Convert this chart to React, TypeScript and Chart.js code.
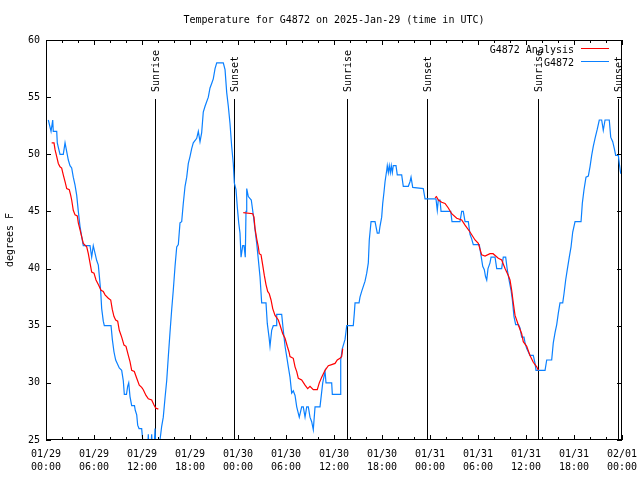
import React, { useEffect, useRef } from "react";
import { Chart, registerables } from "chart.js";

Chart.register(...registerables);

// ---------- data ----------
const chartTitle = "Temperature for G4872 on 2025-Jan-29 (time in UTC)";
const yAxisTitle = "degrees F";
const analysisLabel = "G4872 Analysis";
const obsLabel = "G4872";

// x tick positions (hours since 01/29 00:00 UTC) and labels
const xTickHours = [0, 2, 4, 6, 8, 10, 12, 14, 16, 18, 20, 22, 24, 26, 28, 30, 32, 34, 36, 38, 40, 42, 44, 46, 48, 50, 52, 54, 56, 58, 60, 62, 64, 66, 68, 70, 72];
const xLabelHours = [0, 6, 12, 18, 24, 30, 36, 42, 48, 54, 60, 66, 72];
const xLabelDates = ["01/29", "01/29", "01/29", "01/29", "01/30", "01/30", "01/30", "01/30", "01/31", "01/31", "01/31", "01/31", "02/01"];
const xLabelTimes = ["00:00", "06:00", "12:00", "18:00", "00:00", "06:00", "12:00", "18:00", "00:00", "06:00", "12:00", "18:00", "00:00"];
const yTicks = [25, 30, 35, 40, 45, 50, 55, 60];

// sunrise / sunset markers (hours)
const sunEventHours = [13.66, 23.54, 37.66, 47.59, 61.54, 71.54];
const sunEventLabels = ["Sunrise", "Sunset", "Sunrise", "Sunset", "Sunrise", "Sunset"];

// observed station temperature (blue)
const obsHours = [
  0.29, 0.63, 0.84, 0.91, 1.34, 1.41, 1.75, 2.16, 2.38, 2.79, 3.0, 3.21, 3.41, 3.63, 3.84, 4.04, 4.25, 4.46, 4.66, 5.5,
  5.71, 5.91, 6.34, 6.54, 6.66, 6.84, 6.96, 7.16, 7.29, 8.13, 8.29, 8.5, 8.71, 9.16, 9.46, 9.66, 9.79, 10.06, 10.21, 10.34,
  10.5, 10.71, 11.06, 11.16, 11.34, 11.46, 11.63, 11.96, 12.09, 12.25, 12.69, 12.79, 12.88, 13.1, 13.21, 13.3, 13.5, 13.63, 13.75, 14.13,
  14.25, 14.46, 14.66, 14.88, 15.09, 15.29, 15.5, 15.71, 15.91, 16.13, 16.34, 16.54, 16.75, 16.96, 17.16, 17.38, 17.59, 17.79, 18.0, 18.21,
  18.41, 18.84, 19.04, 19.25, 19.46, 19.66, 19.88, 20.29, 20.5, 20.71, 20.91, 21.13, 21.34, 22.16, 22.38, 22.59, 22.79, 23.0, 23.21, 23.41,
  23.54, 23.75, 23.91, 24.09, 24.25, 24.38, 24.59, 24.75, 24.91, 25.0, 25.09, 25.29, 25.66, 25.91, 26.13, 26.34, 26.54, 26.75, 26.96, 27.5,
  27.66, 27.88, 28.0, 28.21, 28.41, 28.75, 28.84, 29.46, 29.66, 29.88, 30.09, 30.29, 30.5, 30.71, 30.91, 31.13, 31.34, 31.66, 31.96, 32.16,
  32.38, 32.59, 32.79, 33.0, 33.21, 33.41, 33.63, 34.25, 34.59, 34.88, 35.0, 35.71, 35.79, 36.75, 36.84, 37.04, 37.38, 37.59, 38.41, 38.54,
  38.63, 39.13, 39.25, 39.46, 39.88, 40.09, 40.29, 40.41, 40.63, 41.13, 41.41, 41.63, 41.75, 41.96, 42.09, 42.25, 42.38, 42.59, 42.66, 42.79,
  42.91, 43.04, 43.16, 43.29, 43.41, 43.75, 43.91, 44.46, 44.66, 45.29, 45.5, 45.63, 45.84, 47.16, 47.38, 48.75, 48.91, 49.04, 49.25, 49.38,
  50.59, 50.75, 51.75, 51.96, 52.16, 52.38, 52.79, 53.0, 53.21, 53.41, 54.16, 54.34, 54.59, 54.79, 54.94, 55.09, 55.25, 55.5, 55.63, 56.13,
  56.34, 56.96, 57.16, 57.46, 57.66, 57.88, 58.13, 58.29, 58.5, 58.71, 59.06, 59.25, 59.46, 59.75, 59.88, 60.09, 60.5, 60.91, 61.13, 61.25,
  62.38, 62.59, 63.21, 63.41, 63.63, 63.84, 64.04, 64.25, 64.59, 64.75, 64.96, 65.16, 65.41, 65.63, 65.84, 66.13, 66.88, 67.04, 67.25, 67.5,
  67.79, 68.0, 68.21, 68.41, 68.63, 68.91, 69.16, 69.46, 69.66, 69.88, 70.41, 70.59, 70.84, 71.04, 71.21, 71.54, 71.66, 71.84,
];
const obsTemps = [
  53, 52, 53, 52, 52, 51, 50, 50, 51, 49.5, 49, 48.8, 48, 47.3, 46.4, 45, 43.7, 42.8, 42, 42,
  41, 42, 40.7, 40.3, 39.4, 38, 36.5, 35.4, 35, 35, 33.8, 32.7, 32, 31.3, 31.1, 30.2, 29, 29, 29.7, 30,
  28.8, 28, 28, 27.6, 27.2, 26.3, 26, 26, 25, 24, 24, 25.5, 24, 24, 25.5, 24, 24, 26, 24, 24,
  25, 26.2, 27, 28.7, 30.2, 32.3, 34.4, 36.4, 38.1, 40.2, 41.9, 42.1, 44, 44.1, 45.7, 47.2, 48, 49.2, 49.8, 50.5,
  51, 51.4, 52, 51.1, 51.9, 53.7, 54.2, 55, 55.8, 56.2, 56.6, 57.5, 58, 58, 57.4, 55.4, 54.2, 52.7, 50.7, 49.2,
  47.5, 46.9, 45.4, 44, 43.1, 41, 42, 42, 41, 45, 47, 46.3, 46, 44.7, 43.4, 42.2, 40.8, 39.3, 37, 37,
  35.2, 34, 33.2, 34.6, 35, 35, 36, 36, 34.6, 33.2, 32.3, 31.4, 30.5, 29.1, 29.3, 28.9, 27.9, 27, 27.9, 27.9,
  27, 27.9, 27.9, 27, 26.6, 25.9, 27.9, 27.9, 30, 31, 30, 30, 29, 29, 32, 33, 33.8, 35, 35, 36.1,
  37, 37, 37.5, 38, 38.9, 39.6, 40.5, 42.5, 44.1, 44.1, 43.1, 43.1, 43.7, 44.5, 45.7, 46.7, 47.6, 48.6, 49, 48.4,
  49, 48.4, 49, 48.4, 49, 49, 48.2, 48.2, 47.2, 47.2, 47.6, 48, 47.1, 47, 46.1, 46.1, 45.1, 46, 46, 45,
  45, 44.1, 44.1, 45, 45, 44.1, 44.1, 43, 42.6, 42.1, 42.1, 41.3, 40.2, 39.9, 39.3, 39, 40, 40.5, 41, 41,
  40, 40, 41, 41, 39.9, 39, 38.1, 37.3, 35.8, 35.1, 35.1, 34.8, 34, 34, 33.5, 33, 32.4, 32.4, 31.7, 31.1,
  31.1, 32, 32, 33.5, 34.4, 35.1, 36.1, 37, 37, 37.8, 39, 39.9, 41, 41.9, 43.2, 44.1, 44.1, 45.7, 46.9, 48,
  48.1, 48.9, 49.9, 50.7, 51.4, 52.2, 53, 53, 52.1, 53, 53, 51.5, 51.1, 50.5, 49.9, 49.9, 49.2, 48.3,
];

// analysis temperature (red), null = gap
const analysisHours = [
  0.71, 1.0, 1.13, 1.34, 1.54, 1.75, 1.96, 2.16, 2.38, 2.59, 2.91, 3.09, 3.21, 3.41, 3.63, 3.91, 4.04, 4.25, 4.46, 4.66,
  5.09, 5.29, 5.5, 5.71, 6.0, 6.25, 6.54, 6.88, 7.16, 7.38, 7.79, 8.09, 8.29, 8.5, 8.71, 8.96, 9.16, 9.46, 9.75, 10.0,
  10.29, 10.5, 10.71, 11.04, 11.34, 11.66, 11.96, 12.16, 12.5, 12.79, 13.21, 13.5, 13.71, 14.04,
  19.0,
  24.66, 25.84, 26.0, 26.13, 26.34, 26.54, 26.66, 26.88, 27.09, 27.29, 27.5, 27.71, 27.91, 28.13, 28.34, 28.63, 29.04, 29.25, 29.59, 29.88,
  30.16, 30.38, 30.5, 30.91, 31.13, 31.34, 31.54, 31.96, 32.38, 32.71, 33.0, 33.41, 33.91, 34.16, 34.46, 34.88, 35.29, 35.71, 36.13, 36.41,
  36.75, 36.96, 37.09,
  43.0,
  48.63, 48.81, 49.04, 49.46, 49.88, 50.29, 50.71, 51.34, 51.96, 52.38, 53.0, 53.63, 54.04, 54.46, 54.88, 55.5, 55.88, 56.54, 56.96, 57.38,
  57.79, 58.0, 58.21, 58.41, 58.63, 59.04, 59.46, 59.66, 60.09, 60.5, 60.91, 61.34, 61.54,
];
const analysisTemps = [
  51, 51, 50.4, 49.8, 49.2, 48.9, 48.8, 48.2, 47.6, 47, 46.9, 46.4, 46, 45.1, 44.7, 44.6, 44, 43.4, 42.8, 42.2,
  41.9, 41.3, 40.5, 39.7, 39.6, 39, 38.6, 38.1, 38, 37.7, 37.4, 37.25, 36.4, 35.8, 35.5, 35.4, 34.6, 34, 33.3, 33.2,
  32.4, 31.85, 31.1, 31, 30.4, 29.8, 29.6, 29.4, 28.9, 28.6, 28.5, 28.06, 27.8, 27.7,
  null,
  44.9, 44.8, 44.5, 43.5, 42.6, 41.9, 41.3, 41.2, 40.3, 39.4, 38.6, 38, 37.8, 37.25, 36.5, 35.9, 35.5, 35.06, 34.3, 33.9,
  33.2, 32.7, 32.3, 32.15, 31.4, 30.98, 30.4, 30.25, 29.8, 29.5, 29.7, 29.4, 29.4, 30, 30.5, 31.1, 31.5, 31.6, 31.7, 32,
  32.15, 32.3, 33,
  null,
  46.2, 46.3, 46, 45.8, 45.7, 45.3, 44.8, 44.4, 44.25, 43.8, 43.2, 42.5, 42.2, 41.2, 41.1, 41.3, 41.3, 40.9, 40.75, 40,
  39.4, 39, 38.1, 37, 35.9, 35.06, 34.3, 33.6, 33.2, 32.4, 31.8, 31.4, 31.1,
];

// ---------- styles ----------
const FONT = "'DejaVu Sans Mono', 'Liberation Mono', monospace";
const RED = "#ff0000";
const BLUE = "#0a80ff";

const overlayPlugin = {
  id: "gnuplotOverlay",
  beforeDatasetsDraw(chart: any) {
    const { ctx, chartArea, scales } = chart;
    ctx.save();
    ctx.strokeStyle = "#000";
    ctx.lineWidth = 1;
    sunEventHours.forEach((h) => {
      const x = Math.round(scales.x.getPixelForValue(h)) + 0.5;
      ctx.beginPath();
      ctx.moveTo(x, 99);
      ctx.lineTo(x, chartArea.bottom);
      ctx.stroke();
    });
    ctx.restore();
  },
  afterDraw(chart: any) {
    const { ctx, chartArea, scales } = chart;
    const { left, right, top, bottom } = chartArea;
    ctx.save();
    ctx.strokeStyle = "#000";
    ctx.lineWidth = 1;
    // frame
    ctx.strokeRect(left + 0.5, top + 0.5, right - left - 1, bottom - top - 1);
    // x ticks (inward, mirrored)
    xTickHours.forEach((h) => {
      const x = Math.round(scales.x.getPixelForValue(h)) + 0.5;
      const len = h % 6 === 0 ? 5 : 3;
      ctx.beginPath();
      ctx.moveTo(x, bottom);
      ctx.lineTo(x, bottom - len);
      ctx.moveTo(x, top);
      ctx.lineTo(x, top + len);
      ctx.stroke();
    });
    // y ticks
    yTicks.forEach((v) => {
      const y = Math.round(scales.y.getPixelForValue(v)) + 0.5;
      ctx.beginPath();
      ctx.moveTo(left, y);
      ctx.lineTo(left + 5, y);
      ctx.moveTo(right, y);
      ctx.lineTo(right - 5, y);
      ctx.stroke();
    });

    ctx.fillStyle = "#000";
    ctx.font = `10px ${FONT}`;
    // title
    ctx.textAlign = "center";
    ctx.textBaseline = "middle";
    ctx.fillText(chartTitle, (left + right) / 2, 20);

    // y axis title
    ctx.save();
    ctx.translate(10, (top + bottom) / 2);
    ctx.rotate(-Math.PI / 2);
    ctx.textAlign = "center";
    ctx.textBaseline = "middle";
    ctx.fillText(yAxisTitle, 0, 0);
    ctx.restore();

    // sunrise / sunset labels
    sunEventHours.forEach((h, i) => {
      const x = Math.round(scales.x.getPixelForValue(h)) + 1;
      ctx.save();
      ctx.translate(x, 92);
      ctx.rotate(-Math.PI / 2);
      ctx.textAlign = "left";
      ctx.textBaseline = "middle";
      ctx.fillText(sunEventLabels[i], 0, 0);
      ctx.restore();
    });

    // legend
    const entries = [
      { label: analysisLabel, color: RED, y: 50 },
      { label: obsLabel, color: BLUE, y: 63 },
    ];
    entries.forEach((e) => {
      ctx.fillStyle = "#000";
      ctx.textAlign = "right";
      ctx.textBaseline = "middle";
      ctx.fillText(e.label, 574, e.y);
      ctx.strokeStyle = e.color;
      ctx.lineWidth = 1;
      ctx.beginPath();
      ctx.moveTo(581, e.y - 1.5);
      ctx.lineTo(609, e.y - 1.5);
      ctx.stroke();
    });
    ctx.restore();
  },
};

export default function App() {
  const canvasRef = useRef<HTMLCanvasElement | null>(null);

  useEffect(() => {
    if (!canvasRef.current) return;
    const obsData = obsHours.map((h, i) => ({ x: h, y: obsTemps[i] }));
    const anaData = analysisHours.map((h, i) => ({ x: h, y: analysisTemps[i] }));
    const tickFont = { family: FONT, size: 10, lineHeight: 1.3 };

    const chart = new Chart(canvasRef.current, {
      type: "line",
      data: {
        datasets: [
          {
            label: analysisLabel,
            data: anaData as any,
            borderColor: RED,
            borderWidth: 1.2,
            pointRadius: 0,
            tension: 0,
            spanGaps: false,
          },
          {
            label: obsLabel,
            data: obsData as any,
            borderColor: BLUE,
            borderWidth: 1.2,
            pointRadius: 0,
            tension: 0,
          },
        ],
      },
      options: {
        animation: false,
        responsive: true,
        maintainAspectRatio: false,
        parsing: false as any,
        layout: { padding: { top: 40, right: 18, left: 0, bottom: 0 } },
        plugins: {
          legend: { display: false },
          title: { display: false },
          tooltip: { enabled: false },
        },
        scales: {
          x: {
            type: "linear",
            min: 0,
            max: 72,
            grid: { display: false, drawTicks: false, tickLength: 0 },
            border: { display: false },
            ticks: {
              autoSkip: false,
              maxRotation: 0,
              minRotation: 0,
              padding: 8,
              color: "#000",
              font: tickFont,
              callback: (value: any) => {
                const idx = xLabelHours.indexOf(Number(value));
                return idx >= 0 ? [xLabelDates[idx], xLabelTimes[idx]] : "";
              },
            },
            afterBuildTicks: (scale: any) => {
              scale.ticks = xTickHours.map((v) => ({ value: v }));
            },
            afterFit: (scale: any) => {
              scale.height = 40;
              scale.paddingLeft = 0;
              scale.paddingRight = 0;
            },
          },
          y: {
            type: "linear",
            min: 25,
            max: 60,
            grid: { display: false, drawTicks: false, tickLength: 0 },
            border: { display: false },
            ticks: {
              padding: 6,
              color: "#000",
              font: { family: FONT, size: 10 },
            },
            afterBuildTicks: (scale: any) => {
              scale.ticks = yTicks.map((v) => ({ value: v }));
            },
            afterFit: (scale: any) => {
              scale.width = 46;
              scale.paddingTop = 0;
              scale.paddingBottom = 0;
            },
          },
        },
      },
      plugins: [overlayPlugin],
    });
    return () => chart.destroy();
  }, []);

  return (
    <div style={{ position: "fixed", left: 0, top: 0, width: 640, height: 480, background: "#fff" }}>
      <canvas ref={canvasRef} />
    </div>
  );
}
